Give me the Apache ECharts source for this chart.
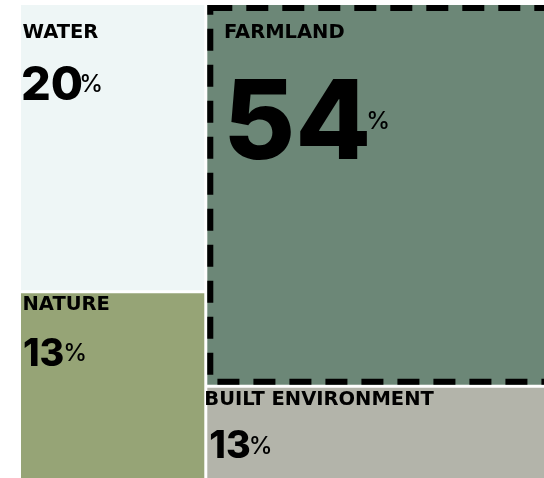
<!DOCTYPE html>
<html>
<head>
<meta charset="utf-8">
<script src="https://cdn.jsdelivr.net/npm/echarts@6/dist/echarts.min.js"></script>
<style>
  html, body { margin: 0; padding: 0; background: #ffffff; }
  #chart { width: 544px; height: 478px; }
</style>
</head>
<body>
<div id="chart"></div>
<script>
// ---- data ----
const categories = ['WATER', 'NATURE', 'FARMLAND', 'BUILT ENVIRONMENT'];
const shares = [20, 13, 54, 13];          // percent of land use
const columns = [[0, 1], [2, 3]];         // which categories stack in each column

// ---- styles ----
const colors = ['#eef6f6', '#96a476', '#6c8777', '#b3b4aa'];
const dashedCell = [false, false, true, false];
const labelStyle = [
  { nameDx: 1.5,  nameDy: 20, numDx: 0,  numTop: 61, numH: 36, pctGap: -4 },
  { nameDx: 1.5,  nameDy: 4,  numDx: 2,  numTop: 45, numH: 29, pctGap: -1 },
  { nameDx: 16.7, nameDy: 20, numDx: 16, numTop: 73, numH: 85, pctGap: -5 },
  { nameDx: -3,   nameDy: 4,  numDx: 2,  numTop: 43, numH: 29, pctGap: -2 }
];
const NAME_FONT = 'DejaVu Sans';
const NAME_SIZE = 19.5;
const NUM_FONT = 'Inter';
const NUM_WEIGHT = 800;
const NUM_RATIO = 0.77;     // digit height / font size
const NUM_SHIFT = 0.05;     // baseline correction (fraction of font size)
const PCT_SIZE = 24;

// ---- build mosaic cells from the values ----
const total = shares.reduce((a, b) => a + b, 0);
const cells = [];
let xAcc = 0;
columns.forEach(col => {
  const colSum = col.reduce((s, i) => s + shares[i], 0);
  const x0 = xAcc / total * 100, x1 = (xAcc + colSum) / total * 100;
  let yAcc = 0;
  col.forEach(i => {
    const y0 = yAcc / colSum * 100, y1 = (yAcc + shares[i]) / colSum * 100;
    cells.push({ name: categories[i], value: [x0, x1, y0, y1, i, shares[i]] });
    yAcc += shares[i];
  });
  xAcc += colSum;
});

const measureCtx = document.createElement('canvas').getContext('2d');
function textWidth(str, font) { measureCtx.font = font; return measureCtx.measureText(str).width; }

function renderItem(params, api) {
  const i = api.value(4);
  const v = api.value(5);
  const vx0 = api.value(0), vx1 = api.value(1), vy0 = api.value(2), vy1 = api.value(3);
  const p0 = api.coord([vx0, vy0]);
  const p1 = api.coord([vx1, vy1]);
  const half = 1.5;
  const l = vx0 > 0.001 ? half : 0, r = vx1 < 99.999 ? half : 0;
  const t = vy0 > 0.001 ? half : 0, b = vy1 < 99.999 ? half : 0;
  const x = p0[0] + l, y = p0[1] + t;
  const w = p1[0] - p0[0] - l - r, h = p1[1] - p0[1] - t - b;
  const ls = labelStyle[i];
  const children = [{
    type: 'rect', shape: { x, y, width: w, height: h },
    style: { fill: colors[i] }
  }];
  if (dashedCell[i]) {
    children.push({
      type: 'rect', shape: { x: x + 3, y: y + 3, width: w - 6, height: h - 6 },
      style: { fill: 'none', stroke: '#000', lineWidth: 6, lineDash: [22, 14] }
    });
  }
  children.push({
    type: 'text', x: x + ls.nameDx, y: y + ls.nameDy - 0.117 * NAME_SIZE,
    style: { text: categories[i], fontFamily: NAME_FONT, fontWeight: 'bold', fontSize: NAME_SIZE,
             fill: '#000', align: 'left', verticalAlign: 'top' }
  });
  const numSize = ls.numH / NUM_RATIO;
  const numStr = String(v);
  const numX = x + ls.numDx;
  const numCy = y + ls.numTop + ls.numH / 2;
  children.push({
    type: 'text', x: numX, y: numCy + NUM_SHIFT * numSize,
    style: { text: numStr, fontFamily: NUM_FONT, fontWeight: NUM_WEIGHT, fontSize: numSize,
             fill: '#000', align: 'left', verticalAlign: 'middle' }
  });
  const nw = textWidth(numStr, NUM_WEIGHT + ' ' + numSize + 'px ' + NUM_FONT);
  children.push({
    type: 'text', x: numX + nw + ls.pctGap, y: numCy + NUM_SHIFT * PCT_SIZE,
    style: { text: '%', fontFamily: NUM_FONT, fontWeight: 500, fontSize: PCT_SIZE,
             fill: '#000', align: 'left', verticalAlign: 'middle' }
  });
  return { type: 'group', children };
}

const chart = echarts.init(document.getElementById('chart'), null, { renderer: 'canvas' });
chart.setOption({
  backgroundColor: '#ffffff',
  animation: false,
  grid: { left: 21, top: 5, width: 560, height: 473, containLabel: false, outerBoundsMode: 'none' },
  xAxis: { type: 'value', min: 0, max: 100, show: false },
  yAxis: { type: 'value', min: 0, max: 100, inverse: true, show: false },
  tooltip: { show: false },
  series: [{
    type: 'custom',
    renderItem,
    clip: false,
    encode: { x: [0, 1], y: [2, 3] },
    data: cells
  }]
});
</script>
</body>
</html>
